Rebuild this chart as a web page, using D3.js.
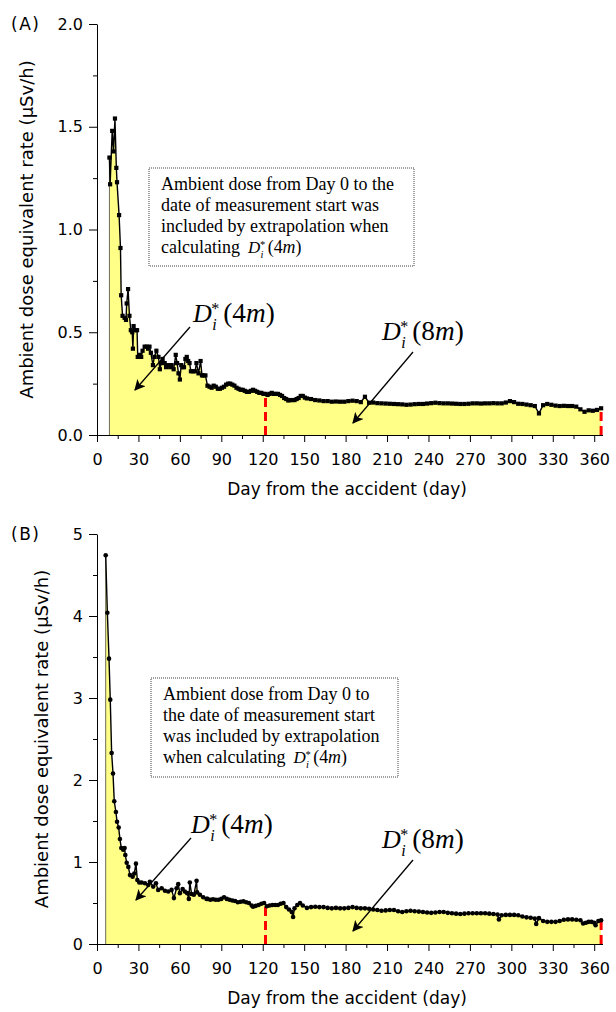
<!DOCTYPE html>
<meta charset="utf-8">
<script src="https://cdn.jsdelivr.net/npm/d3@7"></script>
<style>
  body { margin: 0; background: #fff; }
</style>
<body>
<div id="chart"></div>
<script>
// ---- data (day from accident, ambient dose rate in uSv/h) ----
const daysA = [9, 9.5, 11, 12, 13, 14, 14.5, 16, 17, 17.5, 18.5, 20, 21, 21.5, 22.5, 23.5, 24.5, 25.5, 26, 26.5,
  28, 29, 29.5, 31, 32, 33, 34.5, 36, 37, 38, 39, 40.5, 41.5, 43, 44.5, 45.5, 46.5, 47.5, 49, 50,
  51.5, 53, 54, 55.5, 57, 58, 59, 60, 61, 62, 63, 64, 65, 66, 67, 68, 69.5, 71, 72, 73.5,
  75, 76, 77, 78.5, 80, 81.5, 83, 84.5, 86, 87.5, 89, 90.5, 92, 93.5, 95, 96.5, 98, 99.5, 101, 102.5,
  104, 105.5, 107, 108.5, 110, 111.5, 113, 114.5, 116, 117.5, 119, 120.5, 122, 123.5, 125, 126.5, 128, 129.5, 131, 132.5,
  134, 135.5, 137, 138.5, 140, 141.5, 143, 144.5, 146, 147.5, 149, 150.5, 152,
  155, 158, 161, 164, 167, 170, 173, 176, 179, 182, 185, 188, 191, 194, 197, 200, 203, 206, 209, 212,
  215, 218, 221, 224, 227, 230, 233, 236, 239, 242, 245, 248, 251, 254, 257, 260, 263, 266, 269, 272,
  275, 278, 281, 284, 287, 290, 293, 296, 299, 302, 305, 308, 311, 314, 317, 320, 323, 326, 329, 332,
  335, 338, 341, 344, 347, 350, 353, 356, 359, 362, 365];
const doseA = [1.35, 1.22, 1.48, 1.38, 1.54, 1.30, 1.23, 1.07, 0.91, 0.68, 0.58, 0.57, 0.56, 0.64, 0.71, 0.58, 0.51, 0.50, 0.42, 0.53,
  0.51, 0.51, 0.38, 0.39, 0.38, 0.41, 0.43, 0.43, 0.42, 0.43, 0.40, 0.34, 0.38, 0.41, 0.38, 0.32, 0.35, 0.37, 0.35, 0.33,
  0.34, 0.33, 0.34, 0.32, 0.39, 0.35, 0.30, 0.27, 0.34, 0.33, 0.33, 0.37, 0.38, 0.36, 0.35, 0.31, 0.31, 0.31, 0.35, 0.30,
  0.36, 0.29, 0.29, 0.29, 0.24, 0.235, 0.23, 0.24, 0.235, 0.225, 0.225, 0.23, 0.235, 0.245, 0.25, 0.25, 0.245, 0.24, 0.23, 0.225,
  0.22, 0.22, 0.215, 0.21, 0.21, 0.215, 0.22, 0.215, 0.21, 0.205, 0.205, 0.20, 0.20, 0.195, 0.20, 0.205, 0.20, 0.20, 0.20, 0.195,
  0.19, 0.18, 0.175, 0.168, 0.17, 0.17, 0.17, 0.175, 0.18, 0.19, 0.19, 0.182, 0.178,
  0.175, 0.17, 0.168, 0.165, 0.165, 0.162, 0.163, 0.162, 0.162, 0.165, 0.167, 0.165, 0.16, 0.186, 0.157, 0.158, 0.155, 0.154, 0.153, 0.152,
  0.151, 0.15, 0.149, 0.147, 0.148, 0.15, 0.151, 0.151, 0.153, 0.155, 0.157, 0.155, 0.154, 0.154, 0.153, 0.152, 0.151, 0.151, 0.152, 0.154,
  0.154, 0.153, 0.154, 0.154, 0.155, 0.154, 0.154, 0.158, 0.165, 0.16, 0.152, 0.151, 0.148, 0.145, 0.141, 0.105, 0.145, 0.151, 0.147, 0.143,
  0.141, 0.142, 0.141, 0.141, 0.138, 0.125, 0.113, 0.12, 0.118, 0.122, 0.13];

const daysB = [6.3, 7.5, 8.7, 9.6, 10.6, 11.6, 12.5, 13.7, 14.5, 15.7, 16.6, 17.6, 19, 20, 20.5, 21.5, 22.7, 23.9, 25.8, 27,
  28.2, 29.2, 30.6, 32.3, 34.7, 37.1, 38.3, 40.7, 42.7, 44.3, 46.8, 49.2, 51.6, 54, 55.7, 57.6, 58.8, 60, 62, 63.6,
  65.3, 66.5, 67.2, 68.5, 70.1, 72.1, 72.5, 74.5, 76.9, 79.3, 80, 82, 84, 86, 88, 90, 92, 94, 96, 98,
  100, 102, 104, 106, 108, 110, 112, 113, 115, 117, 119, 121, 123, 125, 127, 129, 131, 133, 135, 137,
  139, 141, 142, 143, 145, 147, 149, 152, 155, 158, 161, 164, 167, 170, 173, 176, 179, 182, 185, 188,
  191, 194, 197, 200, 203, 206, 209, 212, 215, 218, 221, 224, 227, 230, 233, 236, 239, 242, 245, 248,
  251, 254, 257, 260, 263, 266, 269, 272, 275, 278, 281, 284, 287, 290, 291, 293, 296, 299, 302, 305,
  308, 311, 314, 317, 318, 320, 323, 326, 329, 332, 335, 338, 341, 344, 347, 350, 352, 354, 356, 358,
  360, 361, 363, 365];
const doseB = [4.74, 4.04, 3.48, 2.98, 2.33, 2.08, 1.74, 1.61, 1.49, 1.42, 1.28, 1.17, 1.15, 1.17, 1.085, 0.99, 0.94, 0.84, 0.82, 0.86,
  0.98, 0.78, 0.75, 0.75, 0.74, 0.72, 0.76, 0.70, 0.74, 0.66, 0.68, 0.65, 0.64, 0.66, 0.56, 0.68, 0.73, 0.62, 0.67, 0.64,
  0.62, 0.55, 0.75, 0.61, 0.60, 0.77, 0.63, 0.60, 0.57, 0.55, 0.55, 0.54, 0.545, 0.54, 0.54, 0.55, 0.57, 0.55, 0.54, 0.53,
  0.525, 0.51, 0.515, 0.52, 0.51, 0.50, 0.47, 0.455, 0.465, 0.475, 0.49, 0.50, 0.46, 0.47, 0.475, 0.475, 0.475, 0.49, 0.50, 0.45,
  0.42, 0.39, 0.33, 0.435, 0.475, 0.50, 0.47, 0.44, 0.45, 0.455, 0.45, 0.45, 0.44, 0.435, 0.44, 0.435, 0.435, 0.44, 0.45, 0.44,
  0.435, 0.435, 0.43, 0.42, 0.415, 0.405, 0.41, 0.415, 0.415, 0.40, 0.39, 0.40, 0.405, 0.40, 0.395, 0.39, 0.385, 0.38, 0.385, 0.39,
  0.39, 0.38, 0.375, 0.37, 0.365, 0.37, 0.375, 0.375, 0.375, 0.375, 0.375, 0.37, 0.365, 0.36, 0.30, 0.35, 0.355, 0.355, 0.355, 0.35,
  0.335, 0.325, 0.32, 0.31, 0.245, 0.315, 0.28, 0.27, 0.27, 0.27, 0.28, 0.295, 0.30, 0.30, 0.295, 0.29, 0.25, 0.26, 0.27, 0.27,
  0.26, 0.23, 0.28, 0.29];

const xTicks = [0, 30, 60, 90, 120, 150, 180, 210, 240, 270, 300, 330, 360];
const xMinorTicks = [15, 45, 75, 105, 135, 165, 195, 225, 255, 285, 315, 345];
const yTicksA = [0, 0.5, 1.0, 1.5, 2.0];
const yMinorA = [0.25, 0.75, 1.25, 1.75];
const yTicksB = [0, 1, 2, 3, 4, 5];
const yMinorB = [0.5, 1.5, 2.5, 3.5, 4.5];
const cutoffDays = [122, 365];

const boxLinesA = ["Ambient dose from Day 0 to the", "date of measurement start was", "included by extrapolation when", "calculating"];
const boxLinesB = ["Ambient dose from Day 0 to", "the date of measurement start", "was included by extrapolation", "when calculating"];

const svg = d3.select("#chart").append("svg")
  .attr("width", 616)
  .attr("height", 1012)
  .style("background", "#fff");

svg.append("defs").append("marker")
  .attr("id", "arrow")
  .attr("viewBox", "0 0 10 10")
  .attr("refX", 9).attr("refY", 5)
  .attr("markerWidth", 11).attr("markerHeight", 11)
  .attr("markerUnits", "userSpaceOnUse")
  .attr("orient", "auto")
  .append("path")
  .attr("d", "M0,0 L10,5 L0,10 L2.5,5 Z")
  .attr("fill", "black");

const x = d3.scaleLinear().domain([0, 366]).range([97, 602.5]);

function valueAt(days, dose, d) {
  const i = d3.bisectLeft(days, d);
  if (i <= 0) return dose[0];
  if (i >= days.length) return dose[dose.length - 1];
  const t = (d - days[i - 1]) / (days[i] - days[i - 1]);
  return dose[i - 1] + t * (dose[i] - dose[i - 1]);
}

// D_i^*(..) label, drawn piece by piece
function mathLabel(g, x0, y0, size, num) {
  const m = g.append("g").attr("font-family", "Liberation Serif").attr("fill", "black");
  const D = m.append("text").attr("x", x0).attr("y", y0).attr("font-size", size)
    .style("font-style", "italic").text("D");
  const w = D.node().getComputedTextLength();
  const sx = x0 + w + 0.02 * size;
  m.append("text").attr("x", sx).attr("y", y0 + 0.3 * size).attr("font-size", size * 0.62)
    .style("font-style", "italic").text("i");
  m.append("text").attr("x", sx - 0.04 * size).attr("y", y0 - 0.3 * size).attr("font-size", size * 0.62)
    .text("*");
  const t = m.append("text").attr("x", sx + 0.42 * size).attr("y", y0).attr("font-size", size * 1.05);
  t.append("tspan").text("(" + num);
  t.append("tspan").style("font-style", "italic").text("m");
  t.append("tspan").text(")");
}

function panel(o) {
  const y = d3.scaleLinear().domain([0, o.yMax]).range([o.bottom, o.top]);
  const g = svg.append("g");
  const data = o.days.map((d, i) => ({ day: d, v: o.dose[i] }));

  // filled area under the curve
  g.append("path")
    .datum(data)
    .attr("fill", "#ffff88")
    .attr("d", d3.area().x(d => x(d.day)).y0(y(0)).y1(d => y(d.v)));
  g.append("line")
    .attr("x1", x(data[0].day)).attr("x2", x(data[0].day))
    .attr("y1", y(0)).attr("y2", y(data[0].v))
    .attr("stroke", "#6d6d55").attr("stroke-width", 1);

  // red dashed borders of the periods
  cutoffDays.forEach(cd => {
    g.append("line")
      .attr("x1", x(cd)).attr("x2", x(cd))
      .attr("y1", y(0)).attr("y2", y(valueAt(o.days, o.dose, cd)))
      .attr("stroke", "#ff0000").attr("stroke-width", 3)
      .attr("stroke-dasharray", "9,5");
  });

  g.append("path")
    .datum(data)
    .attr("fill", "none")
    .attr("stroke", "black")
    .attr("stroke-width", 1.4)
    .attr("d", d3.line().x(d => x(d.day)).y(d => y(d.v)));

  if (o.marker === "square") {
    g.selectAll(null).data(data).join("rect")
      .attr("x", d => x(d.day) - 2.1).attr("y", d => y(d.v) - 2.1)
      .attr("width", 4.2).attr("height", 4.2).attr("fill", "black");
  } else {
    g.selectAll(null).data(data).join("circle")
      .attr("cx", d => x(d.day)).attr("cy", d => y(d.v))
      .attr("r", 2.3).attr("fill", "black");
  }

  // axes
  g.append("g").attr("transform", `translate(0,${o.bottom})`)
    .call(d3.axisBottom(x).tickValues(xTicks).tickSize(7).tickPadding(12).tickSizeOuter(0));
  g.append("g").attr("transform", `translate(0,${o.bottom})`)
    .call(d3.axisBottom(x).tickValues(xMinorTicks).tickSize(4).tickFormat(""))
    .select(".domain").remove();
  g.append("g").attr("transform", `translate(${x(0)},0)`)
    .call(d3.axisLeft(y).tickValues(o.yTicks).tickSize(8).tickPadding(6).tickSizeOuter(0).tickFormat(d3.format(o.fmt)));
  g.append("g").attr("transform", `translate(${x(0)},0)`)
    .call(d3.axisLeft(y).tickValues(o.yMinor).tickSize(4).tickFormat(""))
    .select(".domain").remove();
  g.selectAll(".tick text").attr("font-family", "DejaVu Sans").attr("font-size", 16).attr("fill", "black");
  g.selectAll(".domain, .tick line").attr("stroke", "black");

  g.append("text")
    .attr("x", 347).attr("y", o.bottom + 60)
    .attr("text-anchor", "middle")
    .attr("font-family", "DejaVu Sans").attr("font-size", 17)
    .text("Day from the accident (day)");
  g.append("text")
    .attr("transform", `translate(${o.titleX},${(o.top + o.bottom) / 2}) rotate(-90)`)
    .attr("text-anchor", "middle")
    .attr("font-family", "DejaVu Sans").attr("font-size", 18)
    .text("Ambient dose equivalent rate (μSv/h)");
  g.append("text")
    .attr("x", 11).attr("y", o.top + 6)
    .attr("font-family", "DejaVu Sans").attr("font-size", 17)
    .attr("letter-spacing", 1.5)
    .text(o.label);

  // note box
  const b = o.box;
  g.append("rect")
    .attr("x", b.x).attr("y", b.y).attr("width", b.w).attr("height", b.h)
    .attr("fill", "white").attr("stroke", "#444").attr("stroke-width", 1)
    .attr("stroke-dasharray", "1,1");
  let lastLen = 0;
  b.lines.forEach((ln, i) => {
    const t = g.append("text")
      .attr("x", b.x + 12).attr("y", b.y + 22 + i * 21)
      .attr("font-family", "Liberation Serif").attr("font-size", 18)
      .text(ln);
    lastLen = t.node().getComputedTextLength();
  });
  mathLabel(g, b.x + 12 + lastLen + 8, b.y + 22 + 3 * 21, 17, "4");

  // annotations
  o.notes.forEach(n => {
    mathLabel(g, n.tx, n.ty, 26, n.num);
    g.append("line")
      .attr("x1", n.from[0]).attr("y1", n.from[1])
      .attr("x2", n.to[0]).attr("y2", n.to[1])
      .attr("stroke", "black").attr("stroke-width", 1.3)
      .attr("marker-end", "url(#arrow)");
  });
}

panel({
  top: 24, bottom: 435, yMax: 2, yTicks: yTicksA, yMinor: yMinorA, fmt: ".1f",
  days: daysA, dose: doseA, marker: "square", label: "(A)", titleX: 33,
  box: { x: 149, y: 168, w: 265, h: 98, lines: boxLinesA },
  notes: [
    { tx: 193, ty: 322, num: "4", from: [190, 327], to: [135, 390] },
    { tx: 382, ty: 340, num: "8", from: [413, 352], to: [353, 423] }
  ]
});

panel({
  top: 534, bottom: 944, yMax: 5, yTicks: yTicksB, yMinor: yMinorB, fmt: "d",
  days: daysB, dose: doseB, marker: "circle", label: "(B)", titleX: 48,
  box: { x: 151, y: 678, w: 247, h: 99, lines: boxLinesB },
  notes: [
    { tx: 191, ty: 833, num: "4", from: [191, 838], to: [136, 900] },
    { tx: 382, ty: 848, num: "8", from: [413, 860], to: [353, 931] }
  ]
});
</script>
</body>
